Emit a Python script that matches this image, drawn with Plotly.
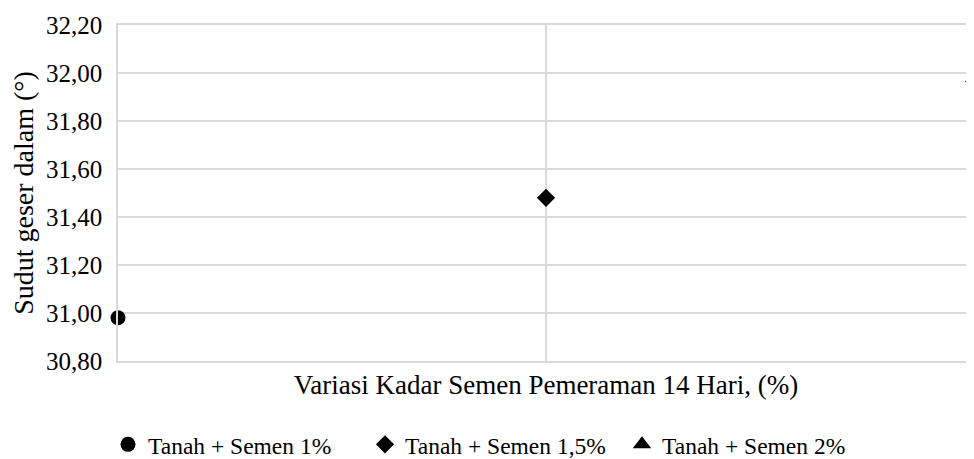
import plotly.graph_objects as go

series_names = ["Tanah + Semen 1%", "Tanah + Semen 1,5%", "Tanah + Semen 2%"]
x_values = [1.0, 1.5, 2.0]
y_values = [30.98, 31.48, 31.98]
symbols = ["circle", "diamond", "triangle-up"]
sizes = [15, 14, 16]

FONT = "Liberation Serif"
W, H = 966, 451  # page body has an 8px margin inside the 974x459 window

fig = go.Figure()
for name, xv, yv, sym, sz in zip(series_names, x_values, y_values, symbols, sizes):
    fig.add_trace(go.Scatter(
        x=[xv], y=[yv], mode="markers", name=name,
        marker=dict(symbol=sym, size=sz, color="black", line=dict(width=0)),
        cliponaxis=False,
    ))

fig.update_layout(
    width=W, height=H,
    margin=dict(l=110, r=0, t=17, b=98, autoexpand=False),
    paper_bgcolor="white", plot_bgcolor="white",
    font=dict(family=FONT, size=24, color="black"),
    separators=",.",
    showlegend=True,
    legend=dict(
        orientation="h", xref="container", yref="container",
        x=100 / W, xanchor="left", y=0.032, yanchor="middle",
        font=dict(family=FONT, size=23.5, color="black"),
        itemwidth=30, entrywidth=212, entrywidthmode="pixels",
    ),
)
fig.update_xaxes(
    range=[1, 2], dtick=0.5, tick0=1, showticklabels=False, ticks="",
    showgrid=True, gridcolor="#d9d9d9", gridwidth=1.5, zeroline=False,
    showline=True, linecolor="#d9d9d9", linewidth=1.5, mirror=True,
    automargin=False,
    title=dict(text="Variasi Kadar Semen Pemeraman 14 Hari, (%)",
               font=dict(family=FONT, size=27, color="black"), standoff=13),
)
fig.update_yaxes(
    range=[30.8, 32.2], dtick=0.2, tick0=30.8, tickformat=".2f",
    showgrid=True, gridcolor="#d9d9d9", gridwidth=1.5, zeroline=False,
    showline=True, linecolor="#d9d9d9", linewidth=1.5, mirror=True,
    ticks="", ticklabelstandoff=9, automargin=False,
    tickfont=dict(family=FONT, size=25, color="black"),
    title=dict(text="Sudut geser dalam (°)", font=dict(family=FONT, size=28, color="black"), standoff=15),
)

fig.write_html("out.html")
